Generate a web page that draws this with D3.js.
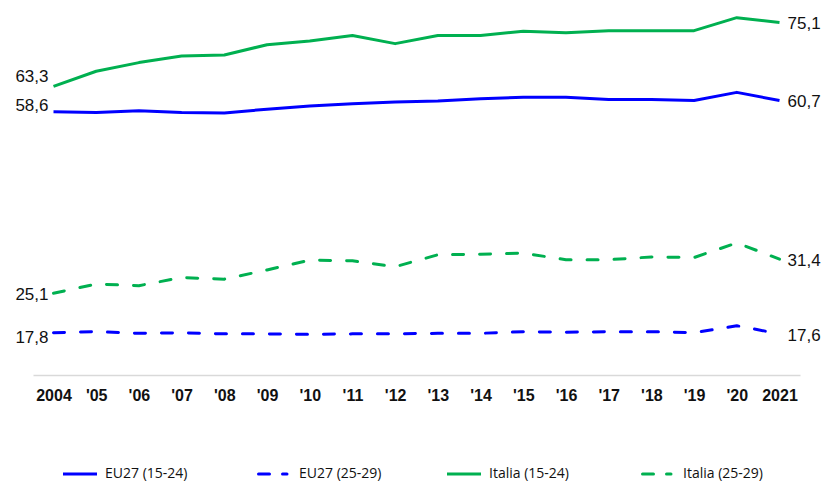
<!DOCTYPE html>
<html>
<head>
<meta charset="utf-8">
<script src="https://cdn.jsdelivr.net/npm/d3@7"></script>
<style>
  body { margin: 0; background: #fff; }
  svg { display: block; }
</style>
</head>
<body>
<svg id="chart" width="828" height="483"></svg>
<script>
// years and tick labels
const years = d3.range(2004, 2022);
const tickLabels = ["2004", "'05", "'06", "'07", "'08", "'09", "'10", "'11", "'12",
  "'13", "'14", "'15", "'16", "'17", "'18", "'19", "'20", "2021"];

// series
const eu1524 = [58.6, 58.5, 58.8, 58.5, 58.4, 59.1, 59.7, 60.1, 60.4, 60.6, 61.0, 61.3, 61.3, 60.9, 60.9, 60.7, 62.2, 60.7];
const eu2529 = [17.8, 18.0, 17.7, 17.8, 17.6, 17.6, 17.5, 17.6, 17.6, 17.7, 17.7, 18.0, 17.9, 18.0, 18.0, 17.8, 19.1, 17.6];
const it1524 = [63.3, 66.1, 67.7, 68.9, 69.1, 71.0, 71.7, 72.7, 71.2, 72.7, 72.7, 73.5, 73.2, 73.6, 73.6, 73.6, 76.0, 75.1];
const it2529 = [25.1, 26.8, 26.5, 28.0, 27.7, 29.4, 31.2, 31.1, 30.0, 32.2, 32.3, 32.5, 31.3, 31.3, 31.8, 31.7, 34.4, 31.4];

const seriesNames = ["EU27 (15-24)", "EU27 (25-29)", "Italia (15-24)", "Italia (25-29)"];

const blue = "#0000ff";
const green = "#00b050";

let series = [
  {name: seriesNames[0], values: eu1524, color: blue, dashed: false, dyL: -7, dyR: 1},
  {name: seriesNames[1], values: eu2529, color: blue, dashed: true, dyL: 4, dyR: 1},
  {name: seriesNames[2], values: it1524, color: green, dashed: false, dyL: -10, dyR: 1},
  {name: seriesNames[3], values: it2529, color: green, dashed: true, dyL: 1, dyR: 1}
];

let svg = d3.select("#chart");

let x = d3.scalePoint().domain(years).range([33, 800]).padding(0.48);
let y = d3.scaleLinear().domain([10, 80]).range([375, -4]);

// x axis
let xAxis = svg.append("g")
  .attr("transform", "translate(0,375)")
  .call(d3.axisBottom(x).tickSize(0).tickPadding(15).tickFormat((d, i) => tickLabels[i]));
xAxis.select(".domain").attr("stroke", "#d9d9d9").attr("stroke-width", 1.5);
xAxis.selectAll("text")
  .attr("font-family", "Liberation Sans, Arial, sans-serif")
  .attr("font-size", 16)
  .attr("font-weight", "bold")
  .attr("fill", "#111");

let line = d3.line()
  .x((d, i) => x(years[i]))
  .y(d => y(d));

let fmt = v => v.toFixed(1).replace(".", ",");

series.forEach(s => {
  svg.append("path")
    .datum(s.values)
    .attr("fill", "none")
    .attr("stroke", s.color)
    .attr("stroke-width", 3)
    .attr("stroke-linecap", s.dashed ? "round" : "butt")
    .attr("stroke-linejoin", "round")
    .attr("stroke-dasharray", s.dashed ? "11,16" : null)
    .attr("d", line);

  // first and last value labels
  svg.append("text")
    .attr("x", x(years[0]) - 5)
    .attr("y", y(s.values[0]) + s.dyL)
    .attr("dy", "0.35em")
    .attr("text-anchor", "end")
    .attr("font-family", "Liberation Sans, Arial, sans-serif")
    .attr("font-size", 17)
    .attr("fill", "#111")
    .text(fmt(s.values[0]));
  svg.append("text")
    .attr("x", x(years[years.length - 1]) + 8)
    .attr("y", y(s.values[s.values.length - 1]) + s.dyR)
    .attr("dy", "0.35em")
    .attr("font-family", "Liberation Sans, Arial, sans-serif")
    .attr("font-size", 17)
    .attr("fill", "#111")
    .text(fmt(s.values[s.values.length - 1]));
});

// legend
let legendX = [63, 257, 447, 641];
let legend = svg.append("g").attr("transform", "translate(0,474)");
series.forEach((s, i) => {
  let g = legend.append("g").attr("transform", `translate(${legendX[i]},0)`);
  g.append("line")
    .attr("x1", s.dashed ? 1.5 : 0).attr("x2", s.dashed ? 30 : 34)
    .attr("y1", 0).attr("y2", 0)
    .attr("stroke", s.color)
    .attr("stroke-width", 3)
    .attr("stroke-linecap", s.dashed ? "round" : "butt")
    .attr("stroke-dasharray", s.dashed ? "11,13" : null);
  g.append("text")
    .attr("x", 42)
    .attr("dy", "0.32em")
    .attr("font-family", "Open Sans, sans-serif")
    .attr("font-size", 14)
    .attr("fill", "#111")
    .text(s.name);
});
</script>
</body>
</html>
